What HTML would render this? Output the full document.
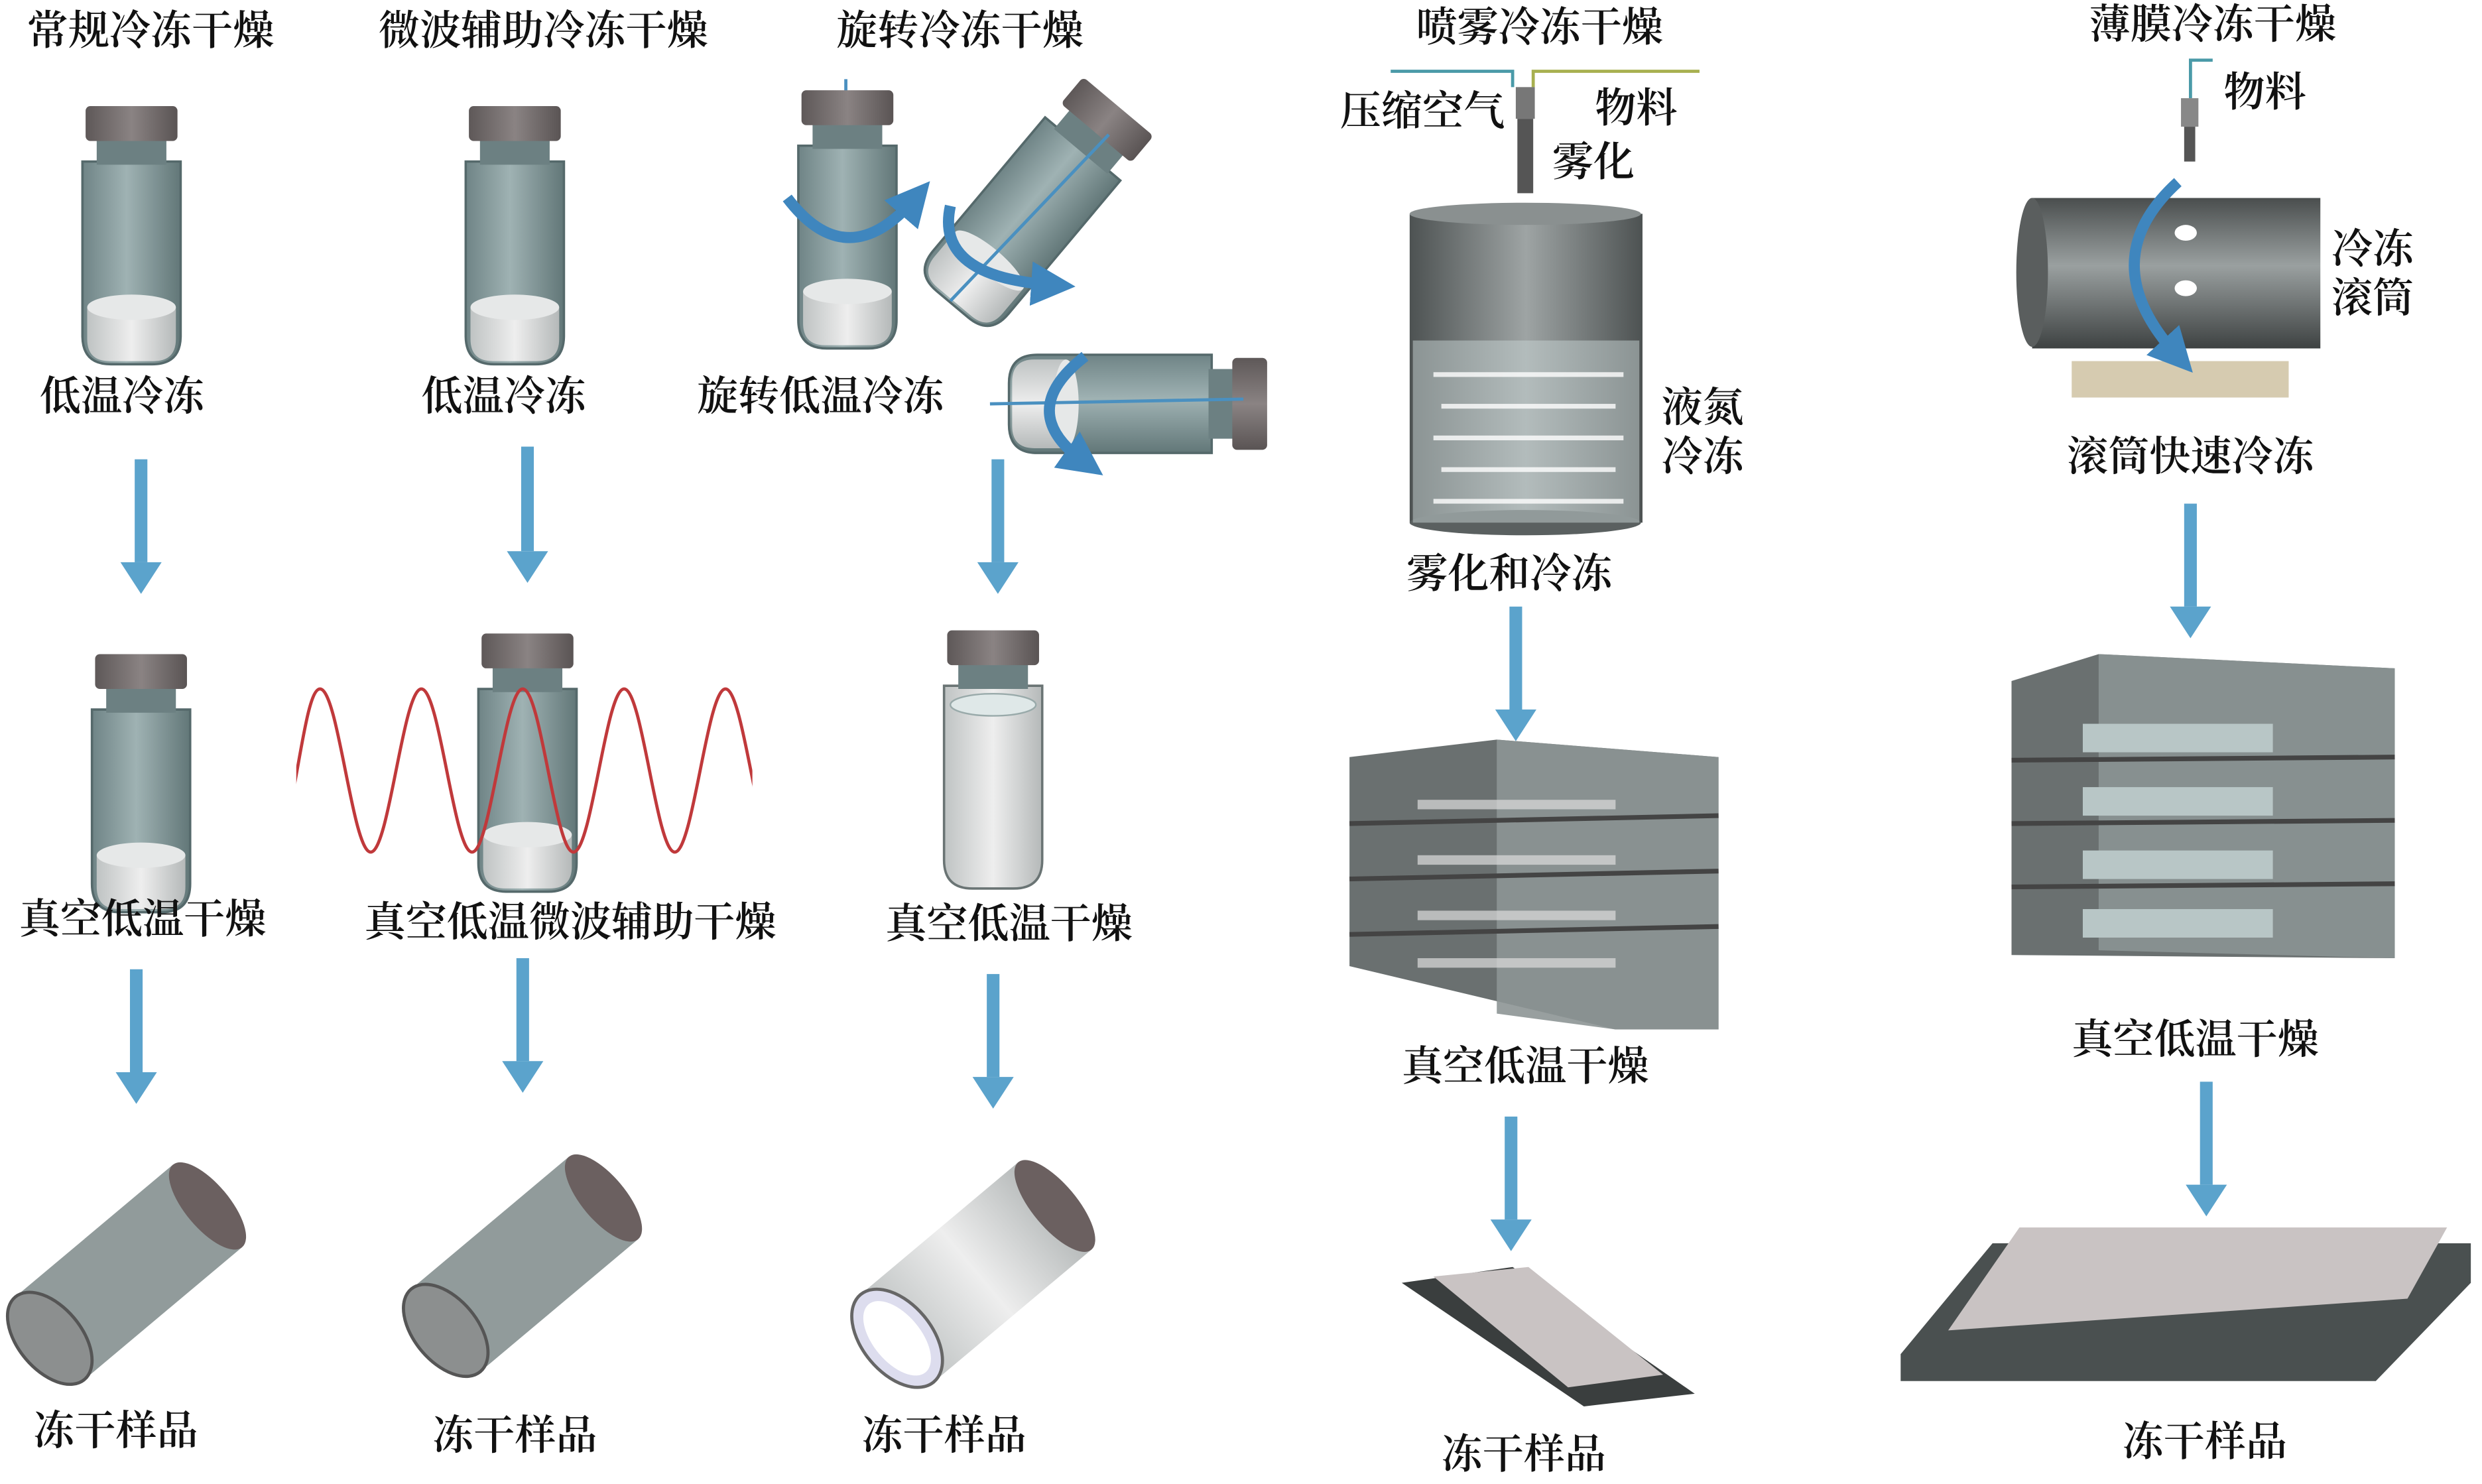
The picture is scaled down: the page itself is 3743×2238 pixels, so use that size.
<!DOCTYPE html>
<html><head><meta charset="utf-8"><style>
html,body{margin:0;padding:0;background:#fff;}
svg{display:block}
text{font-family:"Liberation Serif","Noto Serif CJK SC","Noto Sans CJK SC",serif;font-size:26px;font-weight:600;fill:#111;text-anchor:middle}
</style></head><body>
<svg width="3743" height="2238" viewBox="0 0 1567 937" xmlns="http://www.w3.org/2000/svg">
<defs>
<linearGradient id="gl" x1="0" x2="1"><stop offset="0" stop-color="#6f8486"/><stop offset=".45" stop-color="#9fb2b3"/><stop offset="1" stop-color="#627778"/></linearGradient>
<linearGradient id="cap" x1="0" x2="1"><stop offset="0" stop-color="#5e5858"/><stop offset=".5" stop-color="#8a8383"/><stop offset="1" stop-color="#5a5454"/></linearGradient>
<linearGradient id="wh" x1="0" x2="1"><stop offset="0" stop-color="#bfc3c3"/><stop offset=".5" stop-color="#eeeeee"/><stop offset="1" stop-color="#b5b9b9"/></linearGradient>
<linearGradient id="tank" x1="0" x2="1"><stop offset="0" stop-color="#4d5252"/><stop offset=".5" stop-color="#9ea4a4"/><stop offset="1" stop-color="#4d5252"/></linearGradient>
<linearGradient id="drum" x1="0" y1="0" x2="0" y2="1"><stop offset="0" stop-color="#4a4e4e"/><stop offset=".45" stop-color="#9aa0a0"/><stop offset="1" stop-color="#3e4242"/></linearGradient>
<g id="vial">
<path d="M-31 10 h62 v110 q0 18 -18 18 h-26 q-18 0 -18 -18z" fill="url(#gl)" stroke="#55696b" stroke-width="1.5"/>
<rect x="-22" y="-6" width="44" height="18" fill="#6c8082"/>
<rect x="-29" y="-25" width="58" height="22" rx="3" fill="url(#cap)"/>
<path d="M-28 102 h56 v20 q0 14 -14 14 h-28 q-14 0 -14 -14z" fill="url(#wh)"/>
<ellipse cx="0" cy="102" rx="28" ry="8" fill="#e6e8e8"/>
</g>
<g id="vialw">
<path d="M-31 10 h62 v110 q0 18 -18 18 h-26 q-18 0 -18 -18z" fill="url(#wh)" stroke="#6a7474" stroke-width="1.5"/>
<rect x="-22" y="-6" width="44" height="18" fill="#6c8082"/>
<rect x="-29" y="-25" width="58" height="22" rx="3" fill="url(#cap)"/>
<ellipse cx="0" cy="22" rx="27" ry="7" fill="#dfe8e8" stroke="#9aa" />
</g>
<g id="ly">
<rect x="-70" y="-34" width="130" height="68" fill="#7e8a8a" opacity=".85"/>
<ellipse cx="60" cy="0" rx="14" ry="34" fill="#6b6060"/>
<ellipse cx="-70" cy="0" rx="20" ry="34" fill="#8c8f8f" stroke="#555" stroke-width="2"/>
</g>
<clipPath id="cw"><rect x="187" y="400" width="288" height="160"/></clipPath>
<marker id="ah" viewBox="0 0 10 10" refX="5" refY="5" markerWidth="4" markerHeight="4" orient="auto"><path d="M0 0L10 5L0 10z" fill="#3f86be"/></marker>
</defs>

<!-- titles -->
<text x="95" y="28">常规冷冻干燥</text>
<text x="343" y="28">微波辅助冷冻干燥</text>
<text x="606" y="28">旋转冷冻干燥</text>
<text x="972" y="26">喷雾冷冻干燥</text>
<text x="1397" y="24">薄膜冷冻干燥</text>

<!-- column 1 -->
<use href="#vial" x="83" y="92"/>
<text x="77" y="259">低温冷冻</text>
<use href="#vial" x="89" y="438"/>
<text x="90" y="589">真空低温干燥</text>
<use href="#ly" transform="translate(85,800) rotate(-40)"/>
<text x="73" y="912">冻干样品</text>

<!-- column 2 -->
<use href="#vial" x="325" y="92"/>
<text x="318" y="259">低温冷冻</text>
<use href="#vial" x="333" y="425"/>
<g clip-path="url(#cw)">
<path fill="none" stroke="#c0393b" stroke-width="2" d="M138 435 C149.5 435 154.5 538 170 538 S190.5 435 202 435 S222.5 538 234 538 S254.5 435 266 435 S286.5 538 298 538 S318.5 435 330 435 S350.5 538 362 538 S382.5 435 394 435 S414.5 538 426 538 S446.5 435 458 435 S478.5 538 490 538"/>
</g>
<text x="360" y="591">真空低温微波辅助干燥</text>
<use href="#ly" transform="translate(335,795) rotate(-40)"/>
<text x="325" y="915">冻干样品</text>

<!-- column 3 -->
<line x1="534" y1="50" x2="534" y2="205" stroke="#4a90c0" stroke-width="2"/>
<use href="#vial" x="535" y="82" />
<use href="#vial" transform="translate(645,140) rotate(40) translate(0,-70)"/>
<line x1="600" y1="190" x2="700" y2="85" stroke="#4a90c0" stroke-width="2"/>
<use href="#vial" transform="translate(705,255) rotate(90) translate(0,-70)"/>
<line x1="625" y1="255" x2="785" y2="252" stroke="#4a90c0" stroke-width="2"/>
<path d="M497 125 Q535 175 578 125" fill="none" stroke="#3f86be" stroke-width="7" marker-end="url(#ah)"/>
<path d="M600 130 Q590 175 665 180" fill="none" stroke="#3f86be" stroke-width="7" marker-end="url(#ah)"/>
<path d="M685 225 Q640 260 685 292" fill="none" stroke="#3f86be" stroke-width="7" marker-end="url(#ah)"/>
<text x="518" y="259">旋转低温冷冻</text>
<use href="#vialw" x="627" y="423"/>
<text x="637" y="592">真空低温干燥</text>
<g transform="translate(620,800) rotate(-40)">
<rect x="-70" y="-36" width="130" height="72" fill="url(#wh)"/>
<ellipse cx="60" cy="0" rx="14" ry="36" fill="#6b6060"/>
<ellipse cx="-70" cy="0" rx="22" ry="36" fill="#dde" stroke="#666" stroke-width="2"/>
<ellipse cx="-70" cy="0" rx="15" ry="28" fill="#fff"/>
</g>
<text x="596" y="915">冻干样品</text>

<!-- spray -->
<polyline points="878,45 955,45 955,55" fill="none" stroke="#4a9aa8" stroke-width="2"/>
<polyline points="1073,45 968,45 968,55" fill="none" stroke="#a8b050" stroke-width="2"/>
<rect x="957" y="55" width="12" height="20" fill="#777"/>
<rect x="958" y="75" width="10" height="47" fill="#555"/>
<text x="898" y="79">压缩空气</text>
<text x="1033" y="77">物料</text>
<text x="1006" y="111">雾化</text>
<rect x="890" y="135" width="147" height="195" fill="url(#tank)"/>
<ellipse cx="963" cy="135" rx="73" ry="7" fill="#8a9090"/>
<ellipse cx="963" cy="330" rx="73" ry="8" fill="#5a6060"/>
<rect x="892" y="215" width="143" height="115" fill="#c8d4d4" opacity=".5"/>
<g fill="#fff" opacity=".8">
<rect x="905" y="235" width="120" height="3"/><rect x="910" y="255" width="110" height="3"/><rect x="905" y="275" width="120" height="3"/><rect x="910" y="295" width="110" height="3"/><rect x="905" y="315" width="120" height="3"/>
</g>
<text x="1075" y="266">液氮</text>
<text x="1075" y="297">冷冻</text>
<text x="953" y="371">雾化和冷冻</text>
<polygon points="852,478 945,467 1085,478 1085,650 1020,650 852,610" fill="#6a7070"/>
<polygon points="945,467 1085,478 1085,650 1020,650 945,640" fill="#8d9595" opacity=".9"/>
<g stroke="#444" stroke-width="3"><line x1="852" y1="520" x2="1085" y2="515"/><line x1="852" y1="555" x2="1085" y2="550"/><line x1="852" y1="590" x2="1085" y2="585"/></g>
<g fill="#ddd"><rect x="895" y="505" width="125" height="6" opacity=".7"/><rect x="895" y="540" width="125" height="6" opacity=".7"/><rect x="895" y="575" width="125" height="6" opacity=".7"/><rect x="895" y="605" width="125" height="6" opacity=".7"/></g>
<text x="963" y="682">真空低温干燥</text>
<polygon points="885,810 955,800 1070,880 1000,888" fill="#3a3e3e"/>
<polygon points="905,806 965,800 1050,868 990,876" fill="#c9c3c3"/>
<text x="962" y="927">冻干样品</text>

<!-- film -->
<polyline points="1397,38 1383,38 1383,62" fill="none" stroke="#4a9aa8" stroke-width="2"/>
<rect x="1377" y="62" width="11" height="18" fill="#888"/><rect x="1379" y="80" width="7" height="22" fill="#555"/>
<text x="1430" y="67">物料</text>
<rect x="1283" y="125" width="182" height="95" fill="url(#drum)"/>
<ellipse cx="1283" cy="172" rx="10" ry="47" fill="#5a5e5e"/>
<g fill="#fff"><ellipse cx="1380" cy="147" rx="7" ry="5"/><ellipse cx="1380" cy="182" rx="7" ry="5"/><ellipse cx="1380" cy="118" rx="6" ry="4"/></g>
<rect x="1308" y="228" width="137" height="23" fill="#d6cbb0"/>
<path d="M1375 115 Q1320 165 1375 225" fill="none" stroke="#3f86be" stroke-width="7" marker-end="url(#ah)"/>
<text x="1498" y="166">冷冻</text>
<text x="1498" y="197">滚筒</text>
<text x="1383" y="297">滚筒快速冷冻</text>
<polygon points="1270,430 1325,413 1512,422 1512,605 1270,603" fill="#6a7070"/>
<polygon points="1325,413 1512,422 1512,605 1325,600" fill="#8b9393" opacity=".9"/>
<g stroke="#444" stroke-width="3"><line x1="1270" y1="480" x2="1512" y2="478"/><line x1="1270" y1="520" x2="1512" y2="518"/><line x1="1270" y1="560" x2="1512" y2="558"/></g>
<g fill="#b8c6c6"><rect x="1315" y="457" width="120" height="18"/><rect x="1315" y="497" width="120" height="18"/><rect x="1315" y="537" width="120" height="18"/><rect x="1315" y="574" width="120" height="18"/></g>
<text x="1386" y="665">真空低温干燥</text>
<polygon points="1200,855 1258,785 1560,785 1560,810 1500,872 1200,872" fill="#4a5050"/>
<polygon points="1230,840 1275,775 1545,775 1520,820" fill="#c9c3c3"/>
<text x="1392" y="919">冻干样品</text>

<!-- arrows -->
<g fill="#5ba3cc">
<rect x="85" y="290" width="8" height="65"/><polygon points="76,355 102,355 89,375"/>
<rect x="329" y="282" width="8" height="66"/><polygon points="320,348 346,348 333,368"/>
<rect x="626" y="290" width="8" height="65"/><polygon points="617,355 643,355 630,375"/>
<rect x="82" y="612" width="8" height="65"/><polygon points="73,677 99,677 86,697"/>
<rect x="326" y="605" width="8" height="65"/><polygon points="317,670 343,670 330,690"/>
<rect x="623" y="615" width="8" height="65"/><polygon points="614,680 640,680 627,700"/>
<rect x="953" y="383" width="8" height="65"/><polygon points="944,448 970,448 957,468"/>
<rect x="950" y="705" width="8" height="65"/><polygon points="941,770 967,770 954,790"/>
<rect x="1379" y="318" width="8" height="65"/><polygon points="1370,383 1396,383 1383,403"/>
<rect x="1389" y="683" width="8" height="65"/><polygon points="1380,748 1406,748 1393,768"/>
</g>
</svg>
</body></html>
